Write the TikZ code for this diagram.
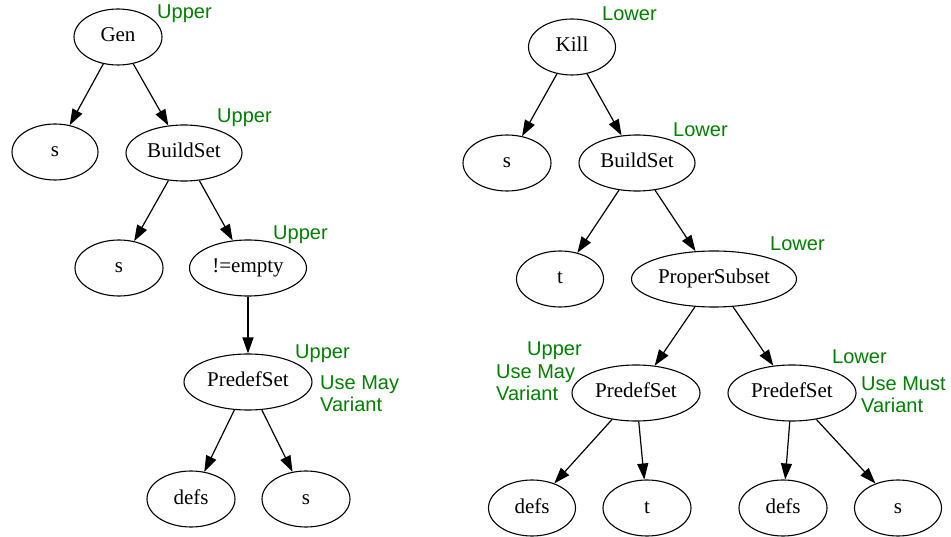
\documentclass[tikz,border=0pt]{standalone}
\usepackage{fontspec}
\setmainfont{Liberation Serif}
\newfontfamily\lblfont{Liberation Sans}
\usetikzlibrary{shapes.geometric,arrows.meta}
\definecolor{lblgreen}{RGB}{0,128,0}
\begin{document}
\begin{tikzpicture}[x=1pt,y=-1pt,
 tnode/.style={ellipse,draw,line width=1.1pt,inner sep=0pt,minimum height=56pt,
   text height=14pt,text depth=4pt,font=\fontsize{21}{24}\selectfont},
 edge/.style={-{Triangle[length=16pt,width=11pt]},line width=1.2pt},
 lbl/.style={text=lblgreen,font=\lblfont\fontsize{20}{22}\selectfont,anchor=base west,inner sep=0pt}]
\useasboundingbox[fill=white] (0,0) rectangle (951,537);
% left tree
\node[tnode,minimum width=88pt]  (gen)   at (118,37)  {\makebox[0pt]{Gen}};
\node[tnode,minimum width=86pt]  (s1)    at (55,152)  {\makebox[0pt]{s}};
\node[tnode,minimum width=116pt] (bs1)   at (184,153) {\makebox[0pt]{BuildSet}};
\node[tnode,minimum width=88pt]  (s2)    at (119,268) {\makebox[0pt]{s}};
\node[tnode,minimum width=117pt] (ne)    at (248,268) {\makebox[0pt]{!=empty}};
\node[tnode,minimum width=128pt] (pd1)   at (248,382) {\makebox[0pt]{PredefSet}};
\node[tnode,minimum width=88pt]  (defs1) at (191,499) {\makebox[0pt]{defs}};
\node[tnode,minimum width=88pt]  (s3)    at (306,499) {\makebox[0pt]{s}};
% right tree
\node[tnode,minimum width=87pt]  (kill)  at (572,47)  {\makebox[0pt]{Kill}};
\node[tnode,minimum width=88pt]  (s4)    at (507,163) {\makebox[0pt]{s}};
\node[tnode,minimum width=116pt] (bs2)   at (637,163) {\makebox[0pt]{BuildSet}};
\node[tnode,minimum width=87pt]  (t1)    at (560,279) {\makebox[0pt]{t}};
\node[tnode,minimum width=165pt] (ps)    at (714,279) {\makebox[0pt]{ProperSubset}};
\node[tnode,minimum width=128pt] (pd2)   at (636,393) {\makebox[0pt]{PredefSet}};
\node[tnode,minimum width=128pt] (pd3)   at (792,393) {\makebox[0pt]{PredefSet}};
\node[tnode,minimum width=87pt]  (defs2) at (532,508) {\makebox[0pt]{defs}};
\node[tnode,minimum width=88pt]  (t2)    at (647,508) {\makebox[0pt]{t}};
\node[tnode,minimum width=88pt]  (defs3) at (783,508) {\makebox[0pt]{defs}};
\node[tnode,minimum width=87pt]  (s5)    at (898,508) {\makebox[0pt]{s}};
% edges
\foreach \a/\b in {gen/s1,gen/bs1,bs1/s2,bs1/ne,ne/pd1,pd1/defs1,pd1/s3,
  kill/s4,kill/bs2,bs2/t1,bs2/ps,ps/pd2,ps/pd3,pd2/defs2,pd2/t2,pd3/defs3,pd3/s5}
  \draw[edge] (\a) -- (\b);
% labels
\node[lbl] (l1) at (157,19)  {Upper};
\node[lbl] (l2) at (217,123) {Upper};
\node[lbl] (l3) at (273,240) {Upper};
\node[lbl] (l4) at (295,359) {Upper};
\node[lbl] (l5) at (320,390) {Use May};
\node[lbl] (l6) at (320,412) {Variant};
\node[lbl] (r1) at (602,21)  {Lower};
\node[lbl] (r2) at (673,137) {Lower};
\node[lbl] (r3) at (770,251) {Lower};
\node[lbl] (r4) at (527,356) {Upper};
\node[lbl] (r5) at (496,378) {Use May};
\node[lbl] (r6) at (496,401) {Variant};
\node[lbl] (r7) at (832,363) {Lower};
\node[lbl] (r8) at (861,391) {Use Must};
\node[lbl] (r9) at (861,413) {Variant};
\end{tikzpicture}
\end{document}
